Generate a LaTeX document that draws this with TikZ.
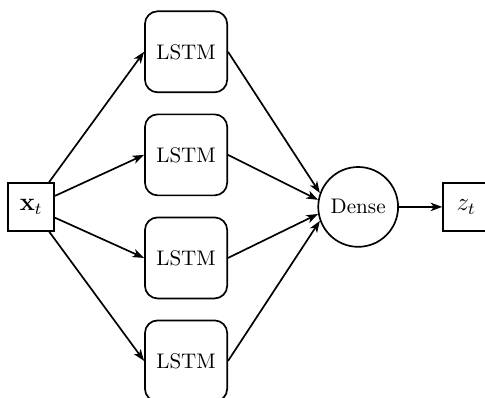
\documentclass[tikz,border=0pt]{standalone}
\usetikzlibrary{arrows.meta}
\begin{document}
\begin{tikzpicture}[thick,
    io/.style={draw, font=\large, minimum width=0.77cm, minimum height=0.8cm, inner sep=0pt},
    cell/.style={draw, rounded corners=6pt, minimum width=1.37cm, minimum height=1.35cm},
    dense/.style={draw, circle, minimum size=1.33cm, inner sep=0pt}]
      \useasboundingbox (0,0) rectangle (8.08,6.63);
      \draw
        (0.517,3.183) node[io] (x){$\mathbf{x}_t$}
        (3.1,5.767) node[cell] (1){LSTM}
        (3.1,4.05) node[cell] (2){LSTM}
        (3.1,2.333) node[cell] (3){LSTM}
        (3.1,0.617) node[cell] (4){LSTM}
        (5.967,3.183) node[dense] (d){Dense}
        (7.767,3.183) node[io] (z){$z_t$};
      \begin{scope}[-{Stealth[length=5.5pt,width=4pt,inset=1.5pt]}]
        \draw (x) to (1.west);
        \draw (x) to (2.west);
        \draw (x) to (3.west);
        \draw (x) to (4.west);
        \draw (1.east) to (d.160);
        \draw (2.east) to (d.170);
        \draw (3.east) to (d.190);
        \draw (4.east) to (d.200);
        \draw (d) to (z);
      \end{scope}
    \end{tikzpicture}
\end{document}
